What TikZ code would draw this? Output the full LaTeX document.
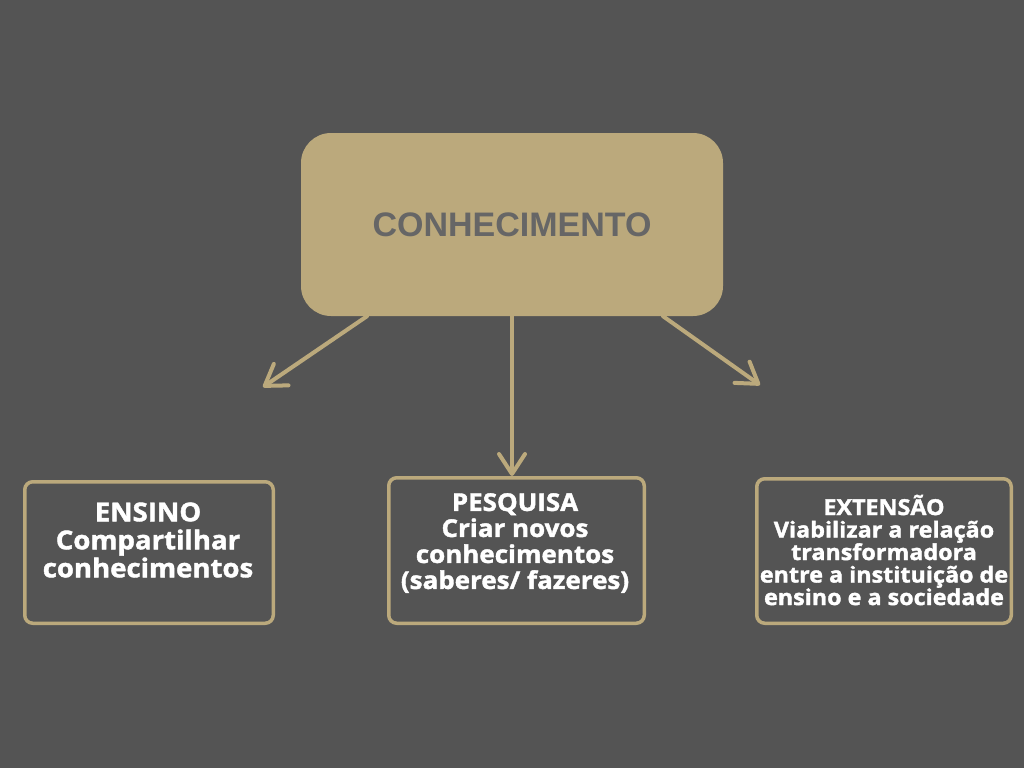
\documentclass[tikz,border=0pt]{standalone}
\usepackage{fontspec}
\setmainfont{Open Sans}[FakeStretch=1.06,BoldFeatures={FakeBold=1.6}]
\newfontfamily\headfont{Liberation Sans}
\usetikzlibrary{arrows.meta}
\definecolor{bgdark}{RGB}{84,84,84}
\definecolor{sand}{RGB}{187,169,124}
\definecolor{headgray}{RGB}{102,102,102}

\begin{document}
\begin{tikzpicture}[x=1pt,y=-1pt,
    pillar/.style={draw=sand,line width=3.5pt,rounded corners=8pt,inner sep=0pt},
    pillartext/.style={text=white,align=center,inner sep=0pt},
    branch/.style={draw=sand,line width=4pt,line cap=round,-{Straight Barb[length=20pt,width=26pt,round]}}]
    \fill[bgdark] (0,0) rectangle (1024,768);
    \useasboundingbox (0,0) rectangle (1024,768);

    \node[fill=sand,rounded corners=30pt,minimum width=422pt,minimum height=183pt,text=headgray,font=\headfont\bfseries\fontsize{34}{40}\selectfont] (conhecimento) at (512,224.5) {CONHECIMENTO};

    \node[pillar,minimum width=248.5pt,minimum height=141.5pt] (ensino) at (149,552.5) {};
    \node[pillar,minimum width=255.5pt,minimum height=145.5pt] (pesquisa) at (516.5,550.5) {};
    \node[pillar,minimum width=254.5pt,minimum height=144.5pt] (extensao) at (884,551) {};

    \node[pillartext,font=\bfseries\fontsize{26}{28}\selectfont] (ensinotxt) at (148,540) {ENSINO\\Compartilhar\\conhecimentos};
    \node[pillartext,font=\bfseries\fontsize{24.5}{26}\selectfont] (pesquisatxt) at (515,543) {PESQUISA\\Criar novos\\conhecimentos\\(saberes/ fazeres)};
    \node[pillartext,font=\bfseries\fontsize{22}{22.5}\selectfont] (extensaotxt) at (884,550) {EXTENS\~AO\\Viabilizar a rela\c{c}\~ao\\transformadora\\entre a institui\c{c}\~ao de\\ensino e a sociedade};

    \coordinate (leftend) at (263,387);
    \coordinate (rightend) at (760,385);
    \draw[branch] ([xshift=-145pt]conhecimento.south) -- (leftend);
    \draw[branch] (conhecimento.south) -- (conhecimento.south |- pesquisa.north);
    \draw[branch] ([xshift=151pt]conhecimento.south) -- (rightend);
\end{tikzpicture}
\end{document}
